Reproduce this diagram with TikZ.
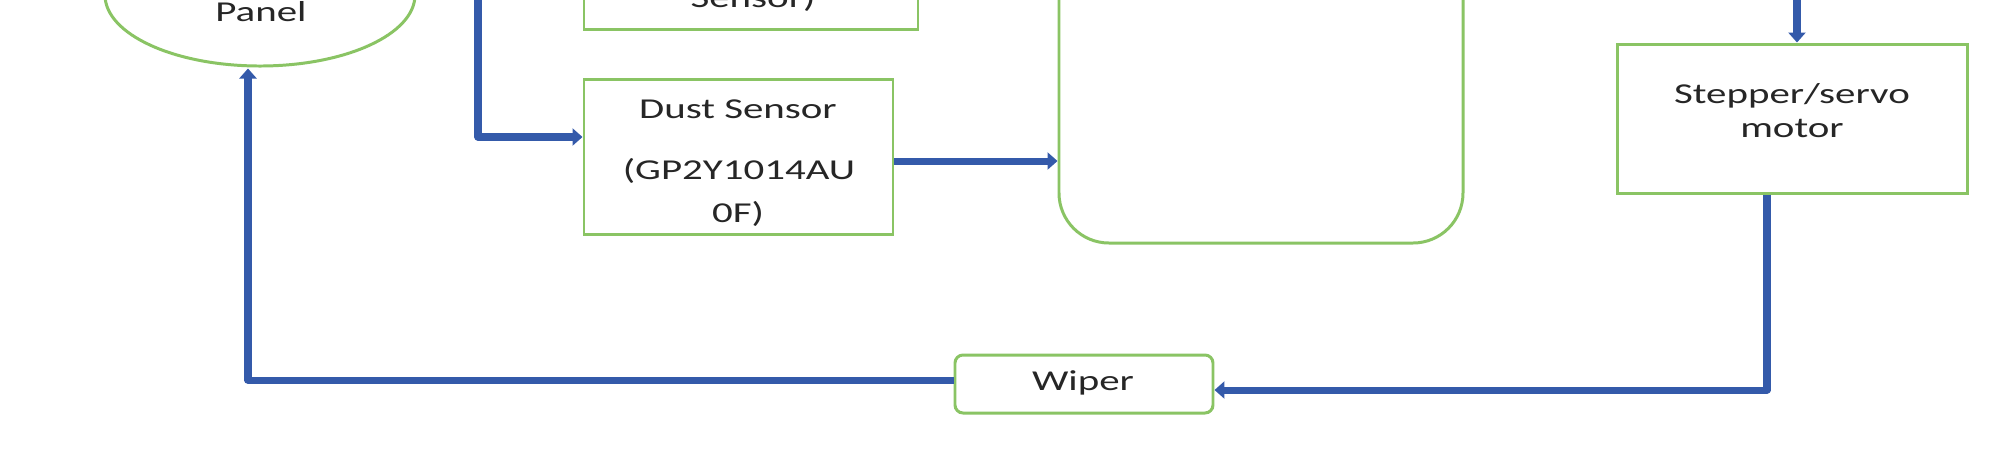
\documentclass[tikz,border=0pt]{standalone}
\usepackage{fontspec}
\setmainfont{Carlito}[FakeStretch=1.42]
\usetikzlibrary{shapes.geometric,arrows.meta,calc}
\definecolor{gbord}{RGB}{138,196,100}
\definecolor{bline}{RGB}{52,90,170}
\definecolor{tcol}{RGB}{38,38,38}
\begin{document}
\begin{tikzpicture}[
  box/.style={draw=gbord, line width=0.85pt, fill=none, inner sep=0pt},
  txt/.style={anchor=base, inner sep=0pt, text=tcol, font=\fontsize{8.2pt}{10pt}\selectfont},
  conn/.style={draw=bline, line width=2pt, line join=round},
  arr/.style={conn, -{Triangle[length=0.1cm,width=0.17cm]}}
]
\useasboundingbox (0,0) rectangle (19.99,-4.49);
\fill[white] (0,0) rectangle (19.99,-4.49);

% boxes
\node[box, ellipse, minimum width=3.10cm, minimum height=1.42cm] (panel) at (2.60,0.05) {};
\node[box, rectangle, minimum width=3.34cm, minimum height=1.5cm] (sensor) at (7.51,0.46) {};
\node[box, rectangle, rounded corners=0.5cm, minimum width=4.04cm, minimum height=3.5cm] (mcu) at (12.61,-0.68) {};
\node[box, rectangle, minimum width=3.09cm, minimum height=1.55cm] (dust) at (7.385,-1.565) {};
\node[box, rectangle, minimum width=3.50cm, minimum height=1.49cm] (stepper) at (17.92,-1.185) {};
\node[box, rectangle, rounded corners=0.08cm, minimum width=2.58cm, minimum height=0.58cm] (wiper) at (10.84,-3.84) {};

% texts
\node[txt] (paneltxt) at (2.61,-0.21) {Panel};
\node[txt] (sensortxt) at (7.53,-0.07) {Sensor)};
\node[txt] (dust1) at (7.38,-1.18) {Dust Sensor};
\node[txt] (dust2) at (7.39,-1.79) {(GP2Y1014AU};
\node[txt] (dust3) at (7.38,-2.22) {0F)};
\node[txt] (step1) at (17.92,-1.03) {Stepper/servo};
\node[txt] (step2) at (17.92,-1.37) {motor};
\node[txt] (wipertxt) at (10.83,-3.90) {Wiper};

% connectors
\coordinate (lt) at (4.78,0.05);
\coordinate (dj) at (4.78,-1.37);
\draw[arr] (lt) -- (dj) -- (dj -| dust.west);

\draw[arr] ([yshift=-0.045cm]dust.east) -- ([yshift=-0.045cm]dust.east -| mcu.west);

\coordinate (rt) at (17.97,0.05);
\draw[arr] (rt) -- (rt |- stepper.north);

\coordinate (sb) at (17.67,-3.90);
\draw[arr] (sb |- stepper.south) -- (sb) -- (sb -| wiper.east);

\coordinate (pl) at (2.48,-3.80);
\draw[arr] (pl -| wiper.west) -- (pl) -- ($(pl |- panel.south)+(0,-0.01)$);
\end{tikzpicture}
\end{document}
